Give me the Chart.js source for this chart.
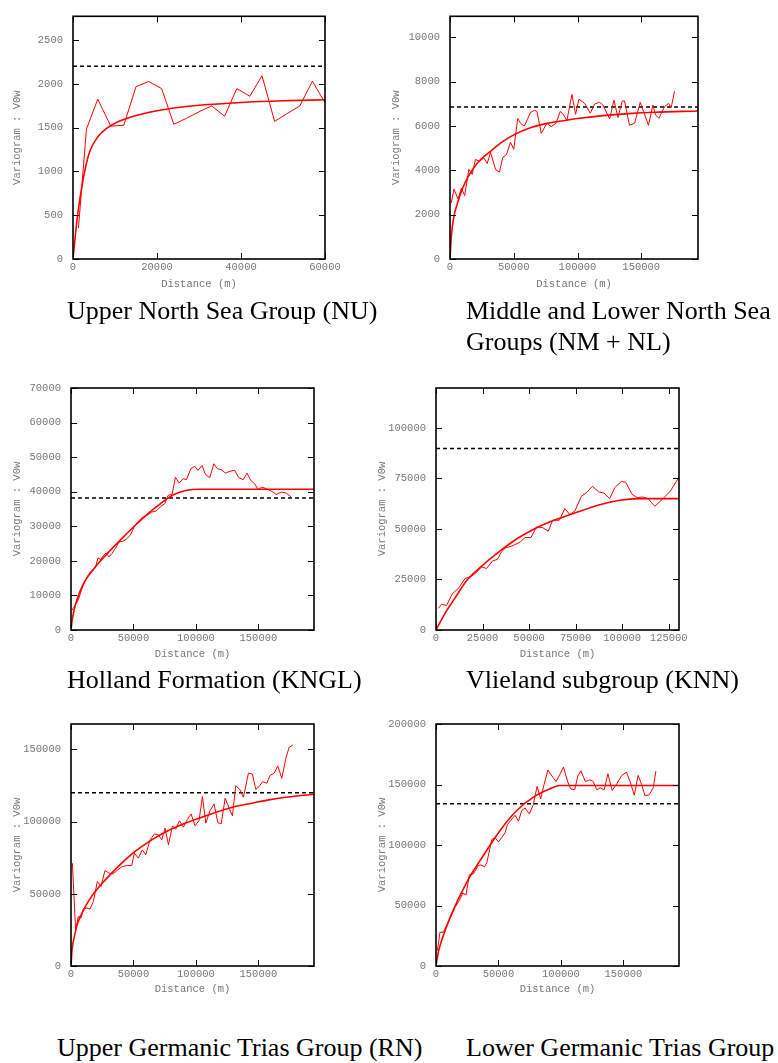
<!DOCTYPE html>
<html>
<head>
<meta charset="utf-8">
<title>Variograms</title>
<script src="https://cdn.jsdelivr.net/npm/chart.js@4.4.1/dist/chart.umd.min.js"></script>
<style>
  html, body { margin: 0; padding: 0; background: #fff; }
  #page { position: relative; width: 778px; height: 1063px; overflow: hidden; }
  #page canvas { position: absolute; }
  .cap { position: absolute; font-family: 'Liberation Serif', 'Times New Roman', serif;
         font-size: 26px; line-height: 31px; color: #000; white-space: nowrap; }
</style>
</head>
<body>
<div id="page">
  <canvas id="nu" width="390" height="300" style="left:0;top:0"></canvas>
  <canvas id="nm" width="398" height="300" style="left:380px;top:0"></canvas>
  <canvas id="kngl" width="390" height="300" style="left:0;top:370px"></canvas>
  <canvas id="knn" width="418" height="300" style="left:360px;top:370px"></canvas>
  <canvas id="rn" width="390" height="305" style="left:0;top:700px"></canvas>
  <canvas id="rb" width="418" height="305" style="left:360px;top:700px"></canvas>

  <div class="cap" style="left:67px;top:295px">Upper North Sea Group (NU)</div>
  <div class="cap" style="left:466px;top:295px">Middle and Lower North Sea<br>Groups (NM + NL)</div>
  <div class="cap" style="left:67px;top:664px">Holland Formation (KNGL)</div>
  <div class="cap" style="left:466px;top:664px">Vlieland subgroup (KNN)</div>
  <div class="cap" style="left:57px;top:1032px">Upper Germanic Trias Group (RN)</div>
  <div class="cap" style="left:466px;top:1032px">Lower Germanic Trias Group</div>
</div>

<script>
/* ---- Upper North Sea Group (NU) ---- */
const nuLag   = [1300, 3200, 5900, 9000, 12100, 15000, 18000, 21100, 24000, 27000, 30000, 33000, 36100, 39000, 42100, 45000, 48000, 51000, 54000, 57000, 60000];
const nuGamma = [355, 1483, 1824, 1516, 1527, 1967, 2026, 1945, 1538, 1605, 1680, 1747, 1630, 1945, 1857, 2092, 1571, 1660, 1747, 2029, 1784];
const nuModelLag   = [0, 1000, 2000, 3000, 4000, 6000, 8000, 10000, 15000, 20000, 25000, 30000, 40000, 50000, 60000];
const nuModelGamma = [0, 465, 795, 1050, 1230, 1400, 1490, 1550, 1637, 1692, 1729, 1755, 1787, 1806, 1817];
const nuSill = 2200;
const nuXTicks = [0, 20000, 40000, 60000];
const nuYTicks = [0, 500, 1000, 1500, 2000, 2500];

/* ---- Middle and Lower North Sea Groups (NM + NL) ---- */
const nmLag   = [1000, 3100, 6300, 8900, 11500, 14800, 17400, 20000, 23200, 26600, 29200, 31800, 35700, 38800, 41400, 44300, 47400, 50000, 53100, 55700, 58300, 60700, 63000, 66100, 68200, 71600, 73800, 76000, 79400, 83100, 86500, 89100, 91700, 95600, 98500, 101100, 105600, 110000, 113400, 117300, 119900, 125200, 128600, 131700, 135100, 136900, 140800, 144800, 149200, 151800, 155700, 159100, 161200, 163800, 168300, 171400, 173500, 176100];
const nmGamma = [2530, 3150, 2700, 3200, 2860, 4040, 3820, 4490, 4410, 4560, 4310, 4810, 4040, 3920, 4590, 4710, 5270, 4950, 6340, 6100, 6000, 6300, 6600, 6710, 6660, 5670, 5900, 6120, 5970, 6120, 6660, 6500, 6250, 7420, 6530, 7210, 7020, 6580, 6990, 7070, 6950, 6320, 7170, 6380, 7130, 7130, 6030, 6130, 7070, 6650, 6030, 6950, 6500, 6350, 6870, 7020, 6830, 7570];
const nmModelLag   = [0, 1000, 3000, 5700, 9600, 13500, 18700, 24000, 31800, 39600, 50000, 63000, 76000, 89000, 100000, 120000, 140000, 160000, 194500];
const nmModelGamma = [0, 1000, 1900, 2490, 3150, 3640, 4120, 4490, 4860, 5230, 5600, 5920, 6120, 6240, 6340, 6470, 6560, 6620, 6680];
const nmSill = 6860;
const nmYTicks = [0, 2000, 4000, 6000, 8000, 10000];

/* ---- Holland Formation (KNGL) ---- */
const knglLag   = [800, 3500, 6100, 8800, 11500, 14100, 16800, 19500, 21600, 24000, 26100, 28200, 30400, 32800, 35400, 38600, 41600, 44200, 47400, 50100, 53300, 56700, 60700, 64700, 68200, 71400, 75100, 77700, 80900, 83600, 86500, 89700, 92400, 95900, 99100, 101700, 104900, 107600, 111100, 114300, 117200, 120400, 123600, 127500, 131000, 134300, 137700, 140900, 143800, 147000, 149700, 152800, 156300, 160300, 164300, 168300, 172300, 176300];
const knglGamma = [5770, 7210, 8940, 12020, 14420, 16060, 17310, 17980, 20860, 20380, 21630, 22310, 21150, 22110, 23560, 25480, 25670, 26250, 27400, 29520, 31250, 32400, 33170, 34130, 34420, 35580, 36550, 38950, 39240, 44230, 42500, 43770, 43480, 46650, 47310, 46160, 47600, 45000, 44050, 48090, 46650, 46360, 45380, 45960, 46160, 44050, 43480, 45380, 43270, 42320, 40590, 41340, 40880, 40190, 39240, 39900, 39610, 38460];
const knglModelLag   = [0, 1000, 2000, 3500, 5000, 10000, 18000, 29000, 39400, 50000, 60700, 71400, 82000, 92700, 103000, 108700, 194500];
const knglModelGamma = [0, 3000, 5000, 7200, 9000, 13400, 17600, 22100, 26000, 29800, 33400, 36500, 39100, 40400, 40700, 40700, 40700];
const knglSill = 38200;
const knglYTicks = [0, 10000, 20000, 30000, 40000, 50000, 60000, 70000];

/* ---- Vlieland subgroup (KNN) ---- */
const knnLag   = [1250, 3000, 5700, 8900, 12000, 15600, 18600, 21500, 24500, 27200, 30400, 32900, 35200, 37600, 40600, 42900, 45400, 47700, 51000, 54000, 57200, 60300, 62600, 66200, 69200, 71900, 74600, 78100, 81200, 84000, 87400, 90100, 93300, 96000, 99600, 101900, 105300, 108000, 110900, 113900, 117500, 121900, 125900, 130000];
const knnGamma = [10690, 12670, 12170, 18100, 20560, 25500, 26320, 28290, 31260, 30430, 34220, 34870, 38660, 40800, 41450, 42440, 43590, 45730, 45730, 51000, 50670, 48860, 54290, 54290, 60040, 57080, 58900, 66130, 68270, 71060, 68270, 67770, 64980, 70410, 73530, 73040, 67120, 65470, 65800, 64980, 61190, 64980, 68760, 74850];
const knnModelLag   = [0, 5000, 10000, 16500, 25000, 34300, 43300, 52200, 61200, 73700, 88000, 98700, 109400, 130500];
const knnModelGamma = [0, 8500, 15500, 24500, 32000, 39000, 45000, 49700, 53500, 57600, 62000, 64200, 65000, 65000];
const knnSill = 89800;
const knnXTicks = [0, 25000, 50000, 75000, 100000, 125000];
const knnYTicks = [0, 25000, 50000, 75000, 100000];

/* ---- Upper Germanic Trias Group (RN) ---- */
const rnLag   = [1100, 3700, 5900, 8000, 9900, 12600, 15200, 17900, 21100, 24000, 27200, 30400, 33900, 37400, 41100, 45400, 48600, 50700, 53900, 57100, 59800, 63300, 66800, 70000, 72600, 75300, 78000, 81200, 83800, 86800, 90000, 93200, 96100, 99300, 102500, 105200, 107900, 111300, 114500, 117500, 120200, 123400, 126600, 129200, 131900, 135400, 138000, 142000, 145200, 147900, 150600, 153300, 156700, 159400, 162600, 165500, 168700, 172000, 174600, 177300];
const rnGamma = [71190, 25110, 34330, 33180, 39400, 40090, 39400, 44700, 58520, 55070, 66120, 64280, 63820, 66590, 68890, 69580, 69580, 78110, 74650, 80410, 76950, 87320, 91470, 90780, 87320, 95390, 83870, 97000, 94690, 100450, 96080, 101600, 105300, 97000, 100700, 117300, 98840, 107600, 112200, 99300, 98380, 116100, 109200, 103900, 124900, 121900, 116800, 133400, 132900, 122300, 124200, 127600, 126500, 132000, 133400, 138500, 129900, 143800, 151400, 152800];
const rnModelLag   = [0, 800, 2700, 5300, 10100, 15400, 24600, 32600, 40600, 51300, 64600, 78000, 91300, 104700, 118000, 131400, 144700, 158100, 171400, 194500];
const rnModelGamma = [0, 11000, 20300, 29500, 38800, 46800, 56900, 64300, 71200, 79300, 87300, 93800, 98800, 103000, 106900, 110400, 112700, 115000, 116800, 118900];
const rnSill = 120000;
const rnYTicks = [0, 50000, 100000, 150000];

/* ---- Lower Germanic Trias Group ---- */
const rbLag   = [1100, 3200, 5900, 8500, 11800, 15200, 18700, 21400, 24000, 26700, 29900, 33900, 36000, 38800, 40700, 44700, 47300, 50000, 52500, 55300, 57200, 60000, 63300, 66000, 68600, 71300, 74700, 77900, 80900, 83800, 86500, 89600, 92800, 96100, 99000, 102000, 105500, 107900, 111000, 113500, 116000, 119500, 123000, 125800, 128700, 131400, 134600, 137600, 141000, 144700, 148700, 152500, 155500, 158700, 161800, 164600, 167200, 170700, 173900, 176000];
const rbGamma = [12700, 27900, 27900, 33400, 40300, 48500, 54100, 60400, 58700, 75600, 76100, 83000, 83600, 82000, 85500, 104600, 106000, 102500, 106000, 110100, 116900, 120500, 124600, 119700, 128400, 130600, 125700, 133300, 148500, 138000, 150000, 162000, 157000, 152500, 158000, 164400, 152000, 146400, 145600, 157000, 161400, 152500, 153800, 152500, 145600, 147300, 145600, 158900, 145100, 150600, 157500, 160200, 152000, 141200, 157500, 150000, 140700, 141500, 147500, 161000];
const rbModelLag   = [0, 2000, 4500, 11200, 24600, 37900, 51300, 64600, 78000, 91300, 99300, 110000, 194500];
const rbModelGamma = [0, 12000, 21000, 40000, 69200, 91300, 112000, 128500, 139600, 146400, 149200, 149200, 149200];
const rbSill = 134000;
const rbYTicks = [0, 50000, 100000, 150000, 200000];

const wideXTicks = [0, 50000, 100000, 150000];

/* styling */
const RED = '#f00';
const AXIS_GREY = '#777';
const MONO = { family: "'Liberation Mono', 'Courier New', monospace", size: 10.5 };

/* gnuplot-like frame with inward tick marks on all four sides */
const innerFrame = {
  id: 'innerFrame',
  afterDraw(chart) {
    const { ctx, chartArea: a, scales: { x, y } } = chart;
    const len = 6;
    ctx.save();
    ctx.strokeStyle = '#000';
    ctx.lineWidth = 1;
    ctx.beginPath();
    x.ticks.forEach(t => {
      const px = Math.round(x.getPixelForValue(t.value)) + 0.5;
      ctx.moveTo(px, a.bottom); ctx.lineTo(px, a.bottom - len);
      ctx.moveTo(px, a.top); ctx.lineTo(px, a.top + len);
    });
    y.ticks.forEach(t => {
      const py = Math.round(y.getPixelForValue(t.value)) + 0.5;
      ctx.moveTo(a.left, py); ctx.lineTo(a.left + len, py);
      ctx.moveTo(a.right, py); ctx.lineTo(a.right - len, py);
    });
    ctx.stroke();
    ctx.lineWidth = 1.6;
    ctx.strokeRect(a.left, a.top, a.right - a.left, a.bottom - a.top);
    ctx.restore();
  }
};

function pts(xs, ys) {
  return xs.map((v, i) => ({ x: v, y: ys[i] }));
}

/* ── one variogram panel ─────────────────────────────────── */
function variogramPanel(id, p) {
  const el = document.getElementById(id);
  return new Chart(el, {
    type: 'scatter',
    data: {
      datasets: [
        { data: pts(p.lag, p.gamma), showLine: true, borderColor: RED, borderWidth: 1, pointRadius: 0 },
        { data: pts(p.modelLag, p.modelGamma), showLine: true, borderColor: RED, borderWidth: 1.6,
          pointRadius: 0, cubicInterpolationMode: 'monotone' },
        { data: [{ x: 0, y: p.sill }, { x: p.xMax, y: p.sill }], showLine: true, borderColor: '#000',
          borderWidth: 1.5, borderDash: [4, 3], pointRadius: 0 }
      ]
    },
    options: {
      responsive: false, animation: false, events: [],
      layout: { padding: { top: p.padTop, right: p.padRight, bottom: 0, left: 0 } },
      plugins: { legend: { display: false }, tooltip: { enabled: false } },
      scales: {
        x: {
          type: 'linear', min: 0, max: p.xMax,
          afterBuildTicks: s => { s.ticks = p.xTicks.map(v => ({ value: v })); },
          afterFit: s => { s.height = p.xH; },
          grid: { display: false, drawTicks: false }, border: { display: false },
          ticks: { font: MONO, color: AXIS_GREY, padding: 2, maxRotation: 0, autoSkip: false, callback: v => String(v) },
          title: { display: true, text: 'Distance (m)', font: MONO, color: AXIS_GREY, padding: { top: 0, bottom: 9 } }
        },
        y: {
          type: 'linear', min: 0, max: p.yMax,
          afterBuildTicks: s => { s.ticks = p.yTicks.map(v => ({ value: v })); },
          afterFit: s => { s.width = p.yW; },
          grid: { display: false, drawTicks: false }, border: { display: false },
          ticks: { font: MONO, color: AXIS_GREY, padding: 10, autoSkip: false, callback: v => String(v) },
          title: { display: true, text: 'Variogram : V0w', font: MONO, color: AXIS_GREY, padding: { top: p.yTitlePad, bottom: 0 } }
        }
      }
    },
    plugins: [innerFrame]
  });
}

variogramPanel('nu', {
  lag: nuLag, gamma: nuGamma, modelLag: nuModelLag, modelGamma: nuModelGamma, sill: nuSill,
  xMax: 60000, yMax: 2770, xTicks: nuXTicks, yTicks: nuYTicks,
  padTop: 7, padRight: 65, yW: 73, xH: 41, yTitlePad: 11
});
variogramPanel('nm', {
  lag: nmLag, gamma: nmGamma, modelLag: nmModelLag, modelGamma: nmModelGamma, sill: nmSill,
  xMax: 194500, yMax: 10950, xTicks: wideXTicks, yTicks: nmYTicks,
  padTop: 13, padRight: 80, yW: 70, xH: 41, yTitlePad: 10
});
variogramPanel('kngl', {
  lag: knglLag, gamma: knglGamma, modelLag: knglModelLag, modelGamma: knglModelGamma, sill: knglSill,
  xMax: 194500, yMax: 70000, xTicks: wideXTicks, yTicks: knglYTicks,
  padTop: 18, padRight: 76, yW: 71, xH: 40, yTitlePad: 11
});
variogramPanel('knn', {
  lag: knnLag, gamma: knnGamma, modelLag: knnModelLag, modelGamma: knnModelGamma, sill: knnSill,
  xMax: 130500, yMax: 119700, xTicks: knnXTicks, yTicks: knnYTicks,
  padTop: 18, padRight: 99, yW: 76, xH: 40, yTitlePad: 16
});
variogramPanel('rn', {
  lag: rnLag, gamma: rnGamma, modelLag: rnModelLag, modelGamma: rnModelGamma, sill: rnSill,
  xMax: 194500, yMax: 167500, xTicks: wideXTicks, yTicks: rnYTicks,
  padTop: 24, padRight: 76, yW: 71, xH: 39, yTitlePad: 11
});
variogramPanel('rb', {
  lag: rbLag, gamma: rbGamma, modelLag: rbModelLag, modelGamma: rbModelGamma, sill: rbSill,
  xMax: 194500, yMax: 200000, xTicks: wideXTicks, yTicks: rbYTicks,
  padTop: 24, padRight: 99, yW: 76, xH: 39, yTitlePad: 16
});
</script>
</body>
</html>
